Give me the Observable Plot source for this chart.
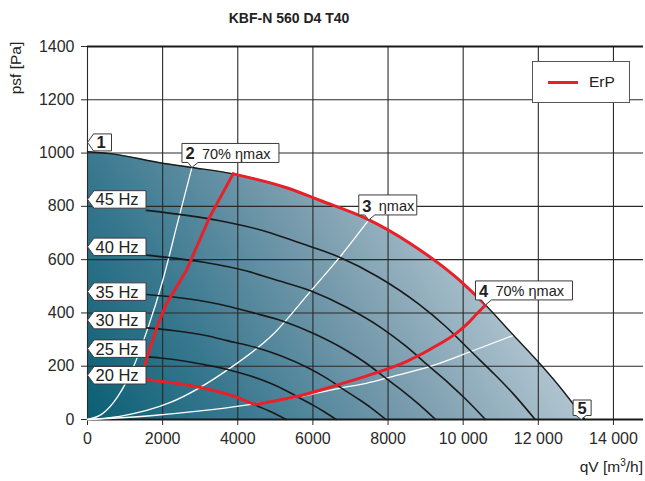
<!DOCTYPE html>
<html><head><meta charset="utf-8">
<script src="https://cdn.jsdelivr.net/npm/d3@7"></script>
<script src="https://cdn.jsdelivr.net/npm/@observablehq/plot@0.6"></script>
<style>
body{margin:0;background:#fff;font-family:"Liberation Sans",Arial,Helvetica,sans-serif;}
#wrap{position:relative;width:645px;height:481px;overflow:hidden;}
#wrap svg{position:absolute;left:0;top:0;}
.title{position:absolute;left:189px;width:200px;top:10px;text-align:center;font-weight:bold;font-size:14px;color:#222;}
.ylab{position:absolute;left:-24px;top:59px;width:80px;height:18px;line-height:18px;text-align:center;font-size:15.5px;color:#222;transform:rotate(-90deg);}
.xlab{position:absolute;right:2px;top:458px;font-size:15.5px;color:#222;}
.xlab sup{font-size:10px;vertical-align:6px;line-height:0;}
.legend{position:absolute;left:532px;top:61px;width:96px;height:40px;border:1px solid #555;background:#fff;}
.legend .sw{position:absolute;left:15px;top:19px;width:30px;height:3px;background:#e8202a;}
.legend .lt{position:absolute;left:56px;top:11px;font-size:15.5px;color:#222;}
</style></head>
<body>
<div id="wrap">
  <div class="title">KBF-N 560 D4 T40</div>
  <div class="ylab">psf [Pa]</div>
  <div class="xlab">qV [m<sup>3</sup>/h]</div>
</div>
<script>
// ---- data ----
const xTicks = [0, 2000, 4000, 6000, 8000, 10000, 12000, 14000];
const xTickLabels = ["0", "2000", "4000", "6000", "8000", "10 000", "12 000", "14 000"];
const yTicks = [0, 200, 400, 600, 800, 1000, 1200, 1400];
const yTickLabels = ["0", "200", "400", "600", "800", "1000", "1200", "1400"];

// envelope (max curve, point 1 to point 5): [qV, psf]
const envelope = [[0,1005],[600,998],[2000,962],[2780,946],[3875,922],[5300,870],[6200,822],[7440,753],[8600,660],[9800,535],[10594,430],[11340,316],[12050,208],[12580,121],[13240,0]];

// speed curves
const hz45 = [[1570,785],[3488,747],[4770,705],[5580,666],[6696,610],[7740,535],[8820,433],[9527,350],[10206,256],[10845,168],[11322,98],[11916,0]];
const hz40 = [[1570,617],[3100,590],[4240,557],[4960,526],[5952,482],[6880,422],[7840,342],[8468,276],[9072,202],[9640,133],[10064,77],[10592,0]];
const hz35 = [[1570,469],[2713,452],[3710,426],[4340,403],[5208,369],[6020,323],[6860,262],[7410,212],[7938,155],[8435,102],[8806,59],[9268,0]];
const hz30 = [[1570,344],[2325,333],[3180,314],[3720,296],[4464,271],[5160,238],[5880,193],[6351,156],[6804,114],[7230,75],[7548,44],[7944,0]];
const hz25 = [[1570,235],[1938,231],[2650,218],[3100,206],[3720,188],[4300,165],[4900,134],[5293,108],[5670,79],[6025,52],[6290,30],[6620,0]];
const hz20 = [[1570,150],[2120,140],[2480,133],[2976,121],[3440,106],[3920,86],[4234,69],[4536,50],[4820,33],[5032,19],[5296,0]];

// system curves (white)
const sys2 = [[0,0],[400,22],[800,85],[1200,190],[1600,340],[2000,520],[2400,740],[2780,946]];
const sys3 = [[0,0],[860,12],[2190,63],[3785,192],[4940,320],[5930,480],[6730,612],[7487,749]];
const sys4 = [[0,0],[1750,15],[3000,32],[4400,58],[5737,88],[6730,118],[7420,136],[8060,159],[9120,199],[10275,259],[11340,316]];

// ErP region (red)
const erpTop = [[3875,922],[5300,870],[6200,822],[7440,753],[8600,660],[9800,535],[10594,430]];
const erpLeft = [[3875,922],[3250,759],[2630,559],[2100,434],[1880,359],[1615,247],[1500,190]];
const erpBottomA = [[1570,150],[2120,140],[2480,133],[2976,121],[3440,106],[3920,86],[4450,56]];
const erpBottomB = [[4450,56],[5100,73],[5737,92],[6730,133],[7420,163],[8500,218],[9390,285],[9830,325],[10100,358],[10365,397],[10594,430]];

// labels
const hzLabels = ["45 Hz", "40 Hz", "35 Hz", "30 Hz", "25 Hz", "20 Hz"];
const hzLabelP = [826, 648, 480, 373, 266, 166];
const pointNumbers = ["1", "2", "3", "4", "5"];
const pointTexts = ["", "70% ηmax", "ηmax", "70% ηmax", ""];
const pointQ = [0, 2780, 7487, 10594, 13140];
const pointP = [1040, 946, 749, 430, 0];
const legendLabel = "ErP";

// ---- build ----
const hzRows = hzLabels.map((t, i) => ({label: t, q: 0, p: hzLabelP[i]}));
const ptRows = pointNumbers.map((n, i) => ({n, t: pointTexts[i], q: pointQ[i], p: pointP[i]}));

const hzTag = {draw(c){c.moveTo(0,0);c.lineTo(6.5,-8.75);c.lineTo(58.5,-8.75);c.lineTo(58.5,8.75);c.lineTo(6.5,8.75);c.closePath();}};
const oneTag = {draw(c){c.moveTo(0,0);c.lineTo(6,-8.5);c.lineTo(24,-8.5);c.lineTo(24,8.5);c.lineTo(6,8.5);c.closePath();}};
const wideTag = {draw(c){c.moveTo(-10,-24);c.lineTo(87,-24);c.lineTo(87,-5);c.lineTo(6,-5);c.lineTo(0,0);c.lineTo(-4,-5);c.lineTo(-10,-5);c.closePath();}};
const narrowTag = {draw(c){c.moveTo(-10,-25);c.lineTo(48,-25);c.lineTo(48,-5);c.lineTo(6,-5);c.lineTo(0,0);c.lineTo(-4,-5);c.lineTo(-10,-5);c.closePath();}};
const fiveTag = {draw(c){c.moveTo(-8,-19.5);c.lineTo(10,-19.5);c.lineTo(10,-4);c.lineTo(5,-4);c.lineTo(0,0);c.lineTo(-5,-4);c.lineTo(-8,-4);c.closePath();}};

const X = d => d[0], Y = d => d[1];
const blackLine = (data) => Plot.line(data, {x: X, y: Y, stroke: "#1a1a1a", strokeWidth: 1.6, curve: "monotone-x"});
const whiteLine = (data) => Plot.line(data, {x: X, y: Y, stroke: "#ffffff", strokeWidth: 1.3, curve: "monotone-x"});
const redLine = (data, curve) => Plot.line(data, {x: X, y: Y, stroke: "#e8202a", strokeWidth: 3, curve, strokeLinejoin: "round"});
const tagStyle = {fill: "white", stroke: "#3a3a3a", strokeWidth: 1};

const chart = Plot.plot({
  width: 645, height: 481,
  marginLeft: 87, marginRight: 2, marginTop: 46, marginBottom: 62,
  style: {fontFamily: "'Liberation Sans', Arial, Helvetica, sans-serif", fontSize: "16px", color: "#2a2a2a", background: "transparent"},
  x: {domain: [0, 14800], ticks: xTicks, tickFormat: d => xTickLabels[xTicks.indexOf(d)], tickSize: 6, tickPadding: 7, label: null},
  y: {domain: [0, 1400], ticks: yTicks, tickFormat: d => yTickLabels[yTicks.indexOf(d)], tickSize: 6, tickPadding: 7, label: null},
  marks: [
    Plot.areaY(envelope, {x: X, y: Y, fill: "url(#fanGrad)", curve: "monotone-x"}),
    Plot.ruleX(xTicks, {stroke: "#2a2a2a", strokeWidth: 1.1}),
    Plot.ruleY(yTicks, {stroke: "#2a2a2a", strokeWidth: 1.1}),
    Plot.ruleY([0, 1400], {stroke: "#1a1a1a", strokeWidth: 2.2}),
    whiteLine(sys2), whiteLine(sys3), whiteLine(sys4),
    blackLine(hz45), blackLine(hz40), blackLine(hz35), blackLine(hz30), blackLine(hz25), blackLine(hz20),
    Plot.line(envelope, {x: X, y: Y, stroke: "#1a1a1a", strokeWidth: 1.4, curve: "monotone-x"}),
    redLine(erpTop, "monotone-x"), redLine(erpLeft, "linear"),
    redLine(erpBottomA, "monotone-x"), redLine(erpBottomB, "monotone-x"),
    // speed labels
    Plot.dot(hzRows, {x: "q", y: "p", symbol: hzTag, ...tagStyle}),
    Plot.text(hzRows, {x: "q", y: "p", text: "label", textAnchor: "start", lineAnchor: "bottom", dx: 8, dy: 6, fontSize: 16.5, fill: "#222"}),
    // point labels
    Plot.dot(ptRows.filter(d => d.n === "1"), {x: "q", y: "p", symbol: oneTag, ...tagStyle}),
    Plot.dot(ptRows.filter(d => d.n === "2" || d.n === "4"), {x: "q", y: "p", symbol: wideTag, ...tagStyle}),
    Plot.dot(ptRows.filter(d => d.n === "3"), {x: "q", y: "p", symbol: narrowTag, ...tagStyle}),
    Plot.dot(ptRows.filter(d => d.n === "5"), {x: "q", y: "p", symbol: fiveTag, ...tagStyle}),
    Plot.text(ptRows.filter(d => d.n === "1"), {x: "q", y: "p", text: "n", textAnchor: "start", lineAnchor: "bottom", dx: 9, dy: 6, fontSize: 16.5, fontWeight: "bold", fill: "#222"}),
    Plot.text(ptRows.filter(d => d.n === "2" || d.n === "3" || d.n === "4"), {x: "q", y: "p", text: "n", textAnchor: "start", lineAnchor: "bottom", dx: -6.5, dy: -8, fontSize: 16.5, fontWeight: "bold", fill: "#222"}),
    Plot.text(ptRows.filter(d => d.n === "2" || d.n === "3" || d.n === "4"), {x: "q", y: "p", text: "t", textAnchor: "start", lineAnchor: "bottom", dx: 10, dy: -8.5, fontSize: 14.5, fill: "#222"}),
    Plot.text(ptRows.filter(d => d.n === "5"), {x: "q", y: "p", text: "n", textAnchor: "middle", lineAnchor: "bottom", dx: 1, dy: -6, fontSize: 16.5, fontWeight: "bold", fill: "#222"})
  ]
});

// gradient definition for the operating area
const defs = d3.select(chart).insert("defs", ":first-child");
const grad = defs.append("linearGradient").attr("id", "fanGrad")
  .attr("gradientUnits", "userSpaceOnUse")
  .attr("x1", 87).attr("y1", 419).attr("x2", 555).attr("y2", 142);
[["0", "#0a5f74"], ["0.25", "#3a7990"], ["0.5", "#7499ab"], ["0.75", "#a9bfcb"], ["1", "#d0dbe2"]]
  .forEach(([o, c]) => grad.append("stop").attr("offset", o).attr("stop-color", c));

const wrap = document.getElementById("wrap");
wrap.insertBefore(chart, wrap.firstChild);

const lg = document.createElement("div");
lg.className = "legend";
lg.innerHTML = '<div class="sw"></div><div class="lt"></div>';
lg.querySelector(".lt").textContent = legendLabel;
wrap.appendChild(lg);
</script>
</body></html>
